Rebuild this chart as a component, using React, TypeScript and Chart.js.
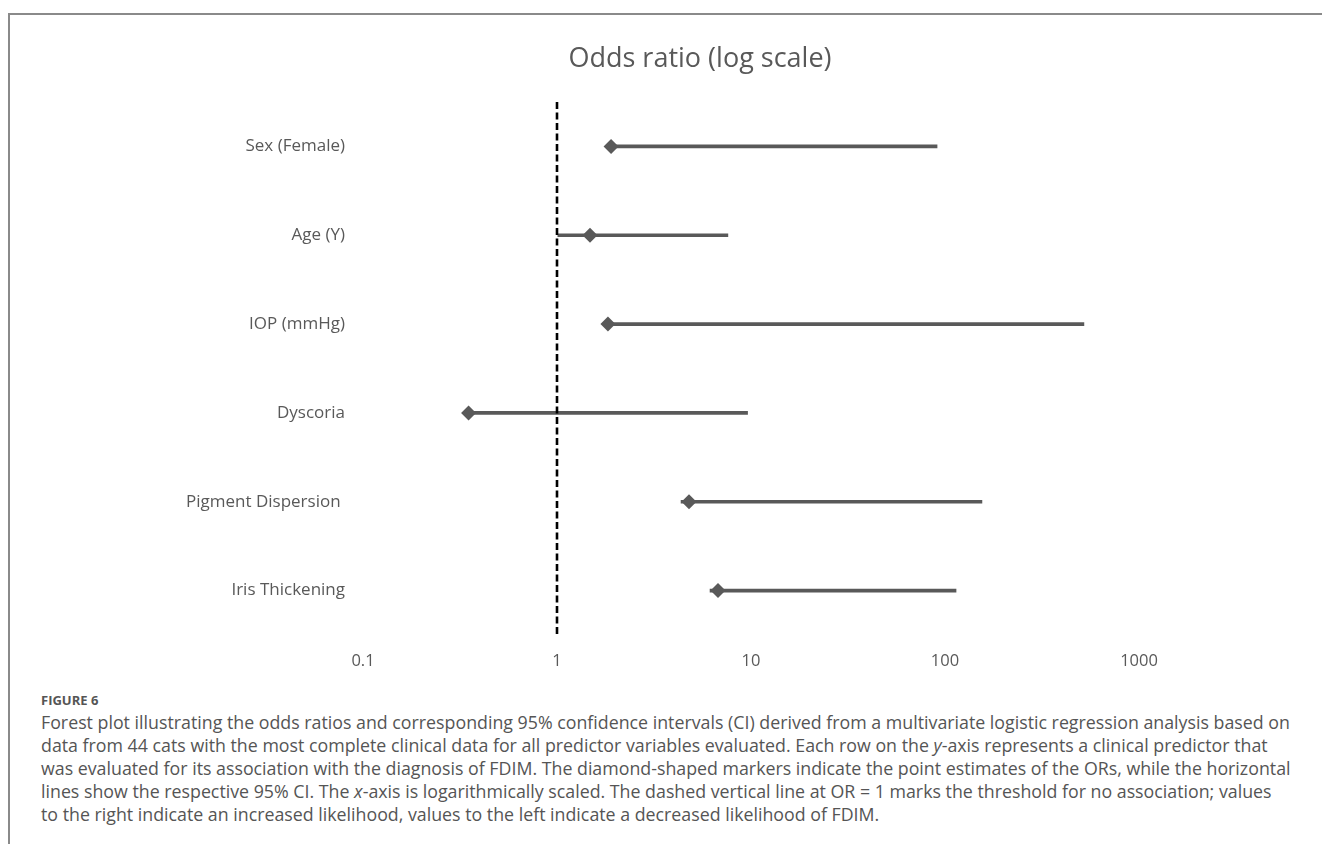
import React, { useEffect, useRef } from "react";
import { Chart, registerables } from "chart.js";

Chart.register(...registerables);

// ---- data ----
const categories = [
  "Sex (Female)",
  "Age (Y)",
  "IOP (mmHg)",
  "Dyscoria",
  "Pigment Dispersion ",
  "Iris Thickening",
];
const oddsRatios = [1.9, 1.48, 1.83, 0.35, 4.79, 6.76];
const ciLower = [1.85, 1.01, 1.8, 0.34, 4.36, 6.15];
const ciUpper = [91, 7.6, 520, 9.6, 155, 114];
const xTickValues = [0.1, 1, 10, 100, 1000];
const referenceOR = 1;

const chartTitle = "Odds ratio (log scale)";
const figureLabel = "FIGURE 6";
const captionLines = [
  "Forest plot illustrating the odds ratios and corresponding 95% confidence intervals (CI) derived from a multivariate logistic regression analysis based on",
  "data from 44 cats with the most complete clinical data for all predictor variables evaluated. Each row on the y-axis represents a clinical predictor that",
  "was evaluated for its association with the diagnosis of FDIM. The diamond-shaped markers indicate the point estimates of the ORs, while the horizontal",
  "lines show the respective 95% CI. The x-axis is logarithmically scaled. The dashed vertical line at OR = 1 marks the threshold for no association; values",
  "to the right indicate an increased likelihood, values to the left indicate a decreased likelihood of FDIM.",
];

const GRAY = "#595959";
const FONT = "'Open Sans', 'DejaVu Sans', sans-serif";

const refLinePlugin = {
  id: "refLine",
  afterDatasetsDraw(chart: any) {
    const { ctx, chartArea, scales } = chart;
    const x = scales.x.getPixelForValue(referenceOR);
    ctx.save();
    ctx.strokeStyle = "#000000";
    ctx.lineWidth = 2.6;
    ctx.setLineDash([7, 3.5]);
    ctx.beginPath();
    ctx.moveTo(x, chartArea.top);
    ctx.lineTo(x, chartArea.bottom);
    ctx.stroke();
    ctx.restore();
  },
};

function renderItalicAxis(line: string) {
  const parts = line.split(/(\b[xy](?=-axis))/);
  return parts.map((p, i) =>
    p === "x" || p === "y" ? <i key={i}>{p}</i> : <React.Fragment key={i}>{p}</React.Fragment>
  );
}

export default function App() {
  const canvasRef = useRef<HTMLCanvasElement>(null);

  useEffect(() => {
    if (!canvasRef.current) return;
    const chart = new Chart(canvasRef.current, {
      type: "bar",
      data: {
        labels: categories,
        datasets: [
          {
            type: "line",
            label: "Odds ratio",
            data: oddsRatios,
            showLine: false,
            pointStyle: "rectRot",
            pointRadius: 7.5,
            pointBackgroundColor: GRAY,
            pointBorderColor: GRAY,
            pointBorderWidth: 0,
            order: 0,
          } as any,
          {
            type: "bar",
            label: "95% CI",
            data: ciLower.map((lo, i) => [lo, ciUpper[i]]),
            backgroundColor: GRAY,
            borderWidth: 0,
            barThickness: 3,
            order: 1,
          } as any,
        ],
      },
      options: {
        indexAxis: "y",
        responsive: false,
        animation: false,
        devicePixelRatio: 1,
        layout: { padding: { left: 0, right: 183, top: 102, bottom: 0 } },
        plugins: {
          legend: { display: false },
          tooltip: { enabled: false },
          title: { display: false },
        },
        scales: {
          x: {
            type: "logarithmic",
            min: 0.1,
            max: 1000,
            grid: { display: false, drawTicks: false },
            border: { display: false },
            afterBuildTicks: (scale: any) => {
              scale.ticks = xTickValues.map((v) => ({ value: v }));
            },
            afterFit: (scale: any) => {
              scale.height = 55;
            },
            ticks: {
              color: GRAY,
              font: { family: FONT, size: 16.5 },
              padding: 16,
              autoSkip: false,
              maxRotation: 0,
              callback: (v: any) => String(v),
            },
          },
          y: {
            type: "category",
            offset: true,
            grid: { display: false, drawTicks: false },
            border: { display: false },
            afterFit: (scale: any) => {
              scale.width = 363;
            },
            ticks: {
              color: GRAY,
              font: { family: FONT, size: 17 },
              padding: 18,
              autoSkip: false,
            },
          },
        },
      } as any,
      plugins: [refLinePlugin],
    });
    return () => chart.destroy();
  }, []);

  return (
    <div
      style={{
        position: "absolute",
        left: 0,
        top: 0,
        width: 1322,
        height: 844,
        background: "#ffffff",
        overflow: "hidden",
        fontFamily: FONT,
      }}
    >
      <div style={{ position: "absolute", left: 9, top: 13, width: 1313, height: 2, background: "#8a8a8a" }} />
      <div style={{ position: "absolute", left: 8, top: 13, width: 2, height: 831, background: "#8a8a8a" }} />
      <canvas
        ref={canvasRef}
        width={1322}
        height={690}
        style={{ position: "absolute", left: 0, top: 0, width: 1322, height: 690 }}
      />
      <div
        style={{
          position: "absolute",
          left: 400,
          width: 600,
          top: 40,
          textAlign: "center",
          color: GRAY,
          fontSize: 27,
          lineHeight: "34px",
          whiteSpace: "nowrap",
        }}
      >
        {chartTitle}
      </div>
      <div
        style={{
          position: "absolute",
          left: 41,
          top: 691,
          color: "#555555",
          whiteSpace: "nowrap",
        }}
      >
        <div style={{ fontWeight: 700, fontSize: 13, lineHeight: "18px", marginBottom: 2 }}>{figureLabel}</div>
        {captionLines.map((l, i) => (
          <div key={i} style={{ fontSize: 17.8, lineHeight: "23px" }}>
            {renderItalicAxis(l)}
          </div>
        ))}
      </div>
    </div>
  );
}
